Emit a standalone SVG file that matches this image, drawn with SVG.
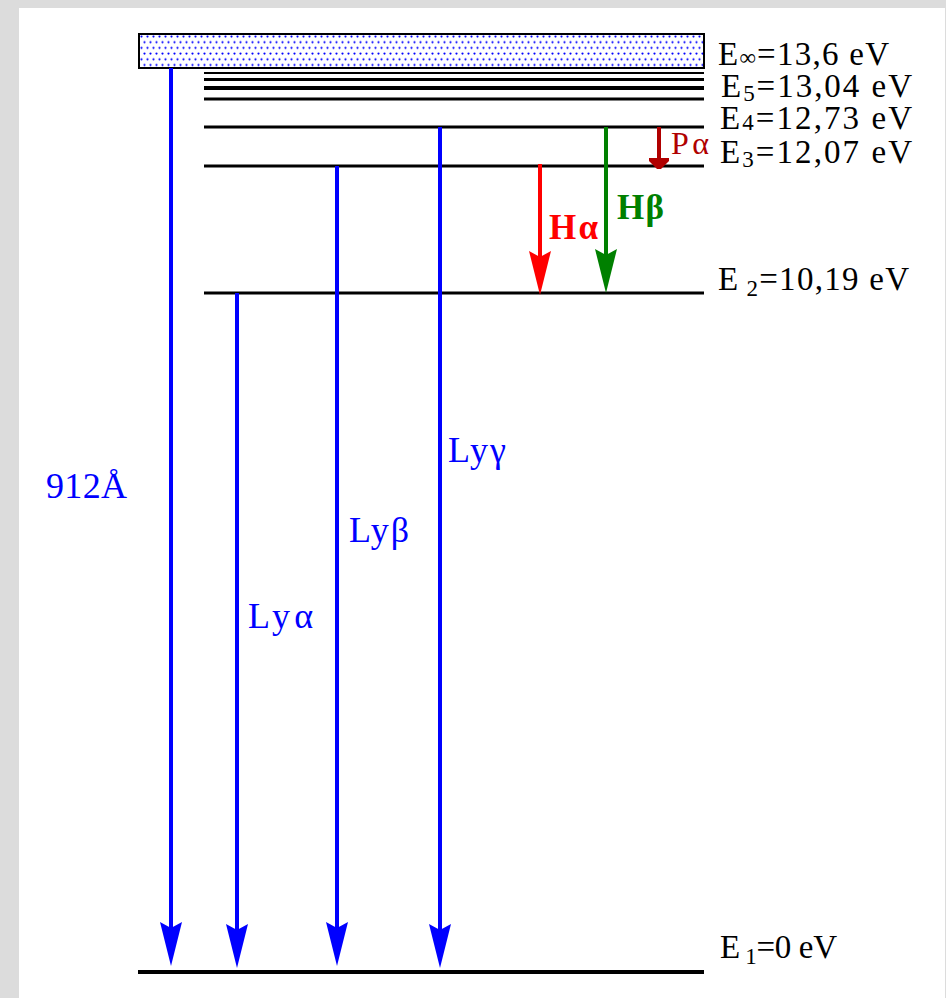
<svg xmlns="http://www.w3.org/2000/svg" width="946" height="998" viewBox="0 0 946 998">
<style>
.lvl{stroke:#000;fill:none}
.lab{font-family:"Liberation Serif","Times New Roman",serif;font-size:33px;fill:#000}
.sub{font-size:23px}
.ly{font-family:"Liberation Serif","Times New Roman",serif;font-size:36px;fill:#0000ff}
.blue{stroke:#0000ff;stroke-width:4;fill:none;marker-end:url(#hb)}
.red{stroke:#ff0000;stroke-width:4;fill:none;marker-end:url(#hr)}
.green{stroke:#008000;stroke-width:4;fill:none;marker-end:url(#hg)}
.dred{stroke:#b00000;stroke-width:4;fill:none;marker-end:url(#hd)}
</style>
<defs>
<pattern id="dots" x="140" y="35" width="12" height="11.4" patternUnits="userSpaceOnUse">
<rect width="12" height="11.4" fill="#fff"/>
<circle cx="1.5" cy="1.5" r="1.1" fill="#0000ff"/>
<circle cx="7.5" cy="1.5" r="1.1" fill="#0000ff"/>
<circle cx="4.5" cy="7.2" r="1.1" fill="#0000ff"/>
<circle cx="10.5" cy="7.2" r="1.1" fill="#0000ff"/>
</pattern>
<marker id="hb" markerUnits="userSpaceOnUse" orient="auto" viewBox="-36 -12 48 24" markerWidth="48" markerHeight="24" refX="0" refY="0">
<path d="M10,0 L-34,-11 L-28,0 L-34,11 Z" fill="#0000ff"/>
</marker>
<marker id="hr" markerUnits="userSpaceOnUse" orient="auto" viewBox="-36 -12 48 24" markerWidth="48" markerHeight="24" refX="0" refY="0">
<path d="M10,0 L-34,-11 L-28,0 L-34,11 Z" fill="#ff0000"/>
</marker>
<marker id="hg" markerUnits="userSpaceOnUse" orient="auto" viewBox="-36 -12 48 24" markerWidth="48" markerHeight="24" refX="0" refY="0">
<path d="M10,0 L-34,-11 L-28,0 L-34,11 Z" fill="#008000"/>
</marker>
<marker id="hd" markerUnits="userSpaceOnUse" orient="auto" viewBox="-2 -12 16 24" markerWidth="16" markerHeight="24" refX="0" refY="0">
<path d="M0,-10 L3,-10 L11,-2 L11,2 L3,10 L0,10 Z" fill="#b00000"/>
</marker>
</defs>

<rect x="0" y="0" width="946" height="998" fill="#dcdcdc"/>
<rect x="19" y="8" width="926" height="990" fill="#fff"/>

<g id="level-inf">
<rect x="139" y="34" width="565" height="34" fill="url(#dots)" stroke="#000" stroke-width="2"/>
<text class="lab" x="718" y="65" textLength="171" lengthAdjust="spacing">E<tspan class="sub" font-size="20">∞</tspan>=13,6 eV</text>
</g>

<g id="level-5">
<line class="lvl" x1="204" y1="73" x2="704" y2="73" stroke-width="2"/>
<line class="lvl" x1="204" y1="79.5" x2="704" y2="79.5" stroke-width="3"/>
<line class="lvl" x1="204" y1="88" x2="704" y2="88" stroke-width="4"/>
<line class="lvl" x1="204" y1="99" x2="704" y2="99" stroke-width="3"/>
<text class="lab" x="721" y="97" textLength="191" lengthAdjust="spacing">E<tspan class="sub" dy="4">5</tspan><tspan dy="-4">=13,04 eV</tspan></text>
</g>

<g id="level-4">
<line class="lvl" x1="204" y1="127" x2="704" y2="127" stroke-width="3"/>
<text class="lab" x="720" y="129" textLength="192" lengthAdjust="spacing">E<tspan class="sub" dy="1">4</tspan><tspan dy="-1">=12,73 eV</tspan></text>
</g>

<g id="level-3">
<line class="lvl" x1="204" y1="166" x2="704" y2="166" stroke-width="3"/>
<text class="lab" x="720" y="163" textLength="192" lengthAdjust="spacing">E<tspan class="sub" dy="4">3</tspan><tspan dy="-4">=12,07 eV</tspan></text>
</g>

<g id="level-2">
<line class="lvl" x1="204" y1="293" x2="704" y2="293" stroke-width="3"/>
<text class="lab" x="718" y="290" textLength="191" lengthAdjust="spacing">E<tspan class="sub" dy="6"> 2</tspan><tspan dy="-6">=10,19 eV</tspan></text>
</g>

<g id="level-1">
<line class="lvl" x1="138" y1="972" x2="704" y2="972" stroke-width="4"/>
<text class="lab" x="720" y="958" textLength="117" lengthAdjust="spacing">E<tspan class="sub" dy="6"> 1</tspan><tspan dy="-6">=0 eV</tspan></text>
</g>

<g id="connectors">
<line class="blue" x1="171" y1="68" x2="171" y2="956"/>
<line class="blue" x1="237" y1="293" x2="237" y2="958"/>
<line class="blue" x1="337" y1="166" x2="337" y2="956"/>
<line class="blue" x1="440" y1="127" x2="440" y2="958"/>
<line class="red" x1="540" y1="164" x2="540" y2="285"/>
<line class="green" x1="606" y1="127" x2="606" y2="283"/>
<line class="dred" x1="659" y1="127" x2="659" y2="158"/>
</g>

<g id="labels">
<text class="ly" x="46" y="498" textLength="81" lengthAdjust="spacing">912Å</text>
<text class="ly" x="248" y="628" textLength="65" lengthAdjust="spacing">Lyα</text>
<text class="ly" x="349" y="542" textLength="60" lengthAdjust="spacing">Lyβ</text>
<text class="ly" x="448" y="462" textLength="58" lengthAdjust="spacing">Lyγ</text>
<text x="549" y="239" font-family="Liberation Serif, serif" font-size="35" font-weight="bold" fill="#ff0000" textLength="49" lengthAdjust="spacing">Hα</text>
<text x="617" y="219" font-family="Liberation Serif, serif" font-size="35" font-weight="bold" fill="#008000" textLength="47" lengthAdjust="spacing">Hβ</text>
<text x="671" y="154" font-family="Liberation Serif, serif" font-size="32" fill="#b00000" textLength="38" lengthAdjust="spacing">Pα</text>
</g>
</svg>
